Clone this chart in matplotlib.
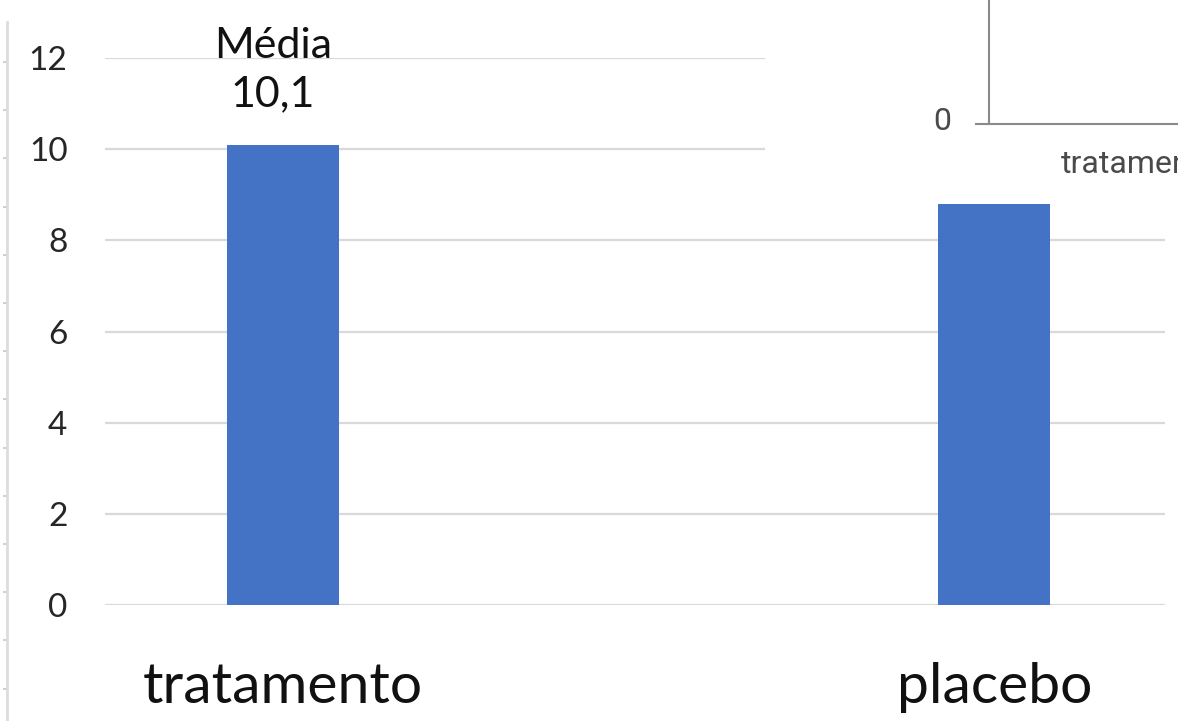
import numpy as np
import matplotlib
matplotlib.use("Agg")
import matplotlib.pyplot as plt
import matplotlib.transforms as mtransforms
from matplotlib.patches import Rectangle

grupos = ["tratamento", "placebo"]
medias = [10.1, 8.8]
rotulo_media = "Média\n10,1"
y_ticks = [0, 2, 4, 6, 8, 10, 12]

azul = "#4472C4"
cinza_grade = "#D9D9D9"

plt.rcParams["font.family"] = ["Lato", "DejaVu Sans"]

fig = plt.figure(figsize=(11.78, 7.21), dpi=100)
W, H = 1178, 721

### grafico principal
ax = fig.add_axes([105 / W, 1 - 605 / H, (1165 - 105) / W, (605 - 58) / H])
x = np.arange(len(grupos))
ax.bar(x, medias, width=0.157, color=azul, zorder=3)
ax.set_xlim(-0.25, 1.24)
ax.set_ylim(0, 12)
ax.set_yticks(y_ticks)
ax.yaxis.grid(True, color=cinza_grade, lw=1.6, zorder=0)
ax.set_axisbelow(True)
for s in ax.spines.values():
    s.set_visible(False)
ax.tick_params(axis="y", length=0, pad=27, labelsize=24, labelcolor="#262626")
ax.set_xticks(x)
ax.set_xticklabels(grupos)
ax.tick_params(axis="x", length=0, pad=41, labelsize=41, labelcolor="#111111")

ax.annotate(rotulo_media, xy=(x[0], medias[0]), xytext=(-7, 28),
            textcoords="offset points", ha="center", va="baseline",
            fontsize=31, linespacing=1.3, color="#111111")

### regua na borda esquerda
ax_r = fig.add_axes([7 / W, 0, 0.0005, (H - 22) / H])
ax_r.set_ylim(0, H - 22)
ax_r.set_yticks(np.arange(659, 0, -48.2))
ax_r.set_yticklabels([])
ax_r.set_xticks([])
ax_r.tick_params(axis="y", length=3, width=1.2, color="#C8C8C8")
for k in ["top", "right", "bottom"]:
    ax_r.spines[k].set_visible(False)
ax_r.spines["left"].set_color("#DCDCDC")
ax_r.spines["left"].set_linewidth(2)
ax_r.patch.set_alpha(0)

### recorte de outro grafico colado no canto
fig.add_artist(Rectangle((765 / W, 1 - 185 / H), 1, 1, transform=fig.transFigure,
                         facecolor="white", edgecolor="none", zorder=1))
ax_i = fig.add_axes([989 / W, 1 - 124 / H, 0.3, 0.3], zorder=2)
ax_i.set_ylim(0, 1)
ax_i.set_yticks([0])
ax_i.set_xticks([])
ax_i.tick_params(axis="y", length=10, width=1.5, color="#8A8A8A", pad=17,
                 labelsize=23, labelcolor="#4A4A4A")
sobe = mtransforms.ScaledTranslation(0, 6 / 100, fig.dpi_scale_trans)
for lab in ax_i.get_yticklabels():
    lab.set_fontfamily("Roboto")
    lab.set_transform(lab.get_transform() + sobe)
for k in ["top", "right"]:
    ax_i.spines[k].set_visible(False)
for k in ["left", "bottom"]:
    ax_i.spines[k].set_color("#8A8A8A")
    ax_i.spines[k].set_linewidth(1.5)
ax_i.patch.set_alpha(0)
fig.text(1061 / W, 1 - 173 / H, "tratamento", fontsize=23, family="Roboto",
         color="#4A4A4A", ha="left", va="baseline", zorder=3)

fig.savefig("out.png", dpi=100)
